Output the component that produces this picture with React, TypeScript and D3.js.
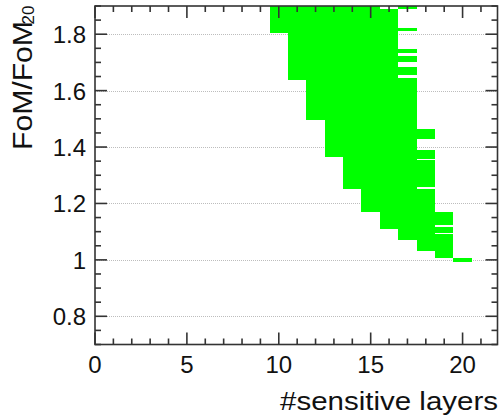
import React from "react";
import * as d3 from "d3";

// number of sensitive layers (bin centre) for each filled cell
const layers = [10, 11, 12, 13, 14, 15, 16, 17, 17, 17, 17, 17, 17, 18, 18, 18, 18, 19, 19, 19, 20];
// lower and upper FoM/FoM20 edge of each filled cell
const fomLow = [1.805, 1.638, 1.496, 1.364, 1.25, 1.171, 1.111, 1.891, 1.811, 1.735, 1.7, 1.657, 1.07, 1.427, 1.359, 1.259, 1.031, 1.122, 1.096, 1.007, 0.993];
const fomHigh = [2.0, 2.0, 2.0, 2.0, 2.0, 2.0, 1.891, 2.0, 1.822, 1.749, 1.723, 1.685, 1.645, 1.465, 1.389, 1.354, 1.253, 1.17, 1.116, 1.09, 1.007];

const xTickValues = [0, 5, 10, 15, 20];
const xTickLabels = ["0", "5", "10", "15", "20"];
const yTickValues = [0.8, 1.0, 1.2, 1.4, 1.6, 1.8];
const yTickLabels = ["0.8", "1", "1.2", "1.4", "1.6", "1.8"];

const W = 499;
const H = 416;
const L = 95;
const R = 497.5;
const T = 6;
const B = 344.5;

const FONT = "'Liberation Sans', Arial, Helvetica, sans-serif";
const AXIS = "#333";

export default function App() {
  const x = d3.scaleLinear().domain([0, 21.9]).range([L, R]);
  const y = d3.scaleLinear().domain([0.7, 1.9]).range([B, T]);

  const xMinor = d3.range(0, 22, 1).filter((v) => v % 5 !== 0);
  const yMinorTicks = d3
    .range(0, 25)
    .map((i) => +(0.7 + i * 0.05).toFixed(2))
    .filter((v) => v <= 1.9 + 1e-9 && !yTickValues.some((m) => Math.abs(m - v) < 1e-6));

  const cells = layers.map((l, i) => {
    const x0 = Math.round(x(l - 0.5));
    const x1 = Math.round(x(l + 0.5));
    const y0 = Math.round(y(fomHigh[i]));
    const y1 = Math.round(y(fomLow[i]));
    return { x0, x1, y0, y1 };
  });

  const major = 12;
  const minor = 6;

  return (
    <svg width={W} height={H} style={{ position: "absolute", left: 0, top: 0, background: "#fff" }}>
      <defs>
        <clipPath id="plot">
          <rect x={L} y={T} width={R - L} height={B - T} />
        </clipPath>
      </defs>
      <rect x={0} y={0} width={W} height={H} fill="#fff" />

      {/* grid */}
      {yTickValues.map((v) => (
        <line key={"g" + v} x1={L} x2={R} y1={Math.round(y(v)) + 0.5} y2={Math.round(y(v)) + 0.5} stroke="#bdbdbd" strokeWidth={1} strokeDasharray="1,1" />
      ))}

      {/* cells */}
      <g clipPath="url(#plot)" shapeRendering="crispEdges">
        {cells.map((c, i) => (
          <rect key={i} x={c.x0} width={c.x1 - c.x0} y={c.y0} height={c.y1 - c.y0} fill="#00ff00" />
        ))}
      </g>

      {/* frame */}
      <rect x={L} y={T} width={R - L} height={B - T} fill="none" stroke={AXIS} strokeWidth={1.6} />

      {/* x ticks */}
      {xTickValues.map((v) => (
        <g key={"xm" + v}>
          <line x1={x(v)} x2={x(v)} y1={B} y2={B - major} stroke={AXIS} strokeWidth={1.6} />
          <line x1={x(v)} x2={x(v)} y1={T} y2={T + major} stroke={AXIS} strokeWidth={1.6} />
        </g>
      ))}
      {xMinor.map((v) => (
        <g key={"xn" + v}>
          <line x1={x(v)} x2={x(v)} y1={B} y2={B - minor} stroke={AXIS} strokeWidth={1.6} />
          <line x1={x(v)} x2={x(v)} y1={T} y2={T + minor} stroke={AXIS} strokeWidth={1.6} />
        </g>
      ))}
      {/* y ticks */}
      {yTickValues.map((v) => (
        <g key={"ym" + v}>
          <line x1={L} x2={L + major} y1={y(v)} y2={y(v)} stroke={AXIS} strokeWidth={1.6} />
          <line x1={R} x2={R - major} y1={y(v)} y2={y(v)} stroke={AXIS} strokeWidth={1.6} />
        </g>
      ))}
      {yMinorTicks.map((v) => (
        <g key={"yn" + v}>
          <line x1={L} x2={L + minor} y1={y(v)} y2={y(v)} stroke={AXIS} strokeWidth={1.6} />
          <line x1={R} x2={R - minor} y1={y(v)} y2={y(v)} stroke={AXIS} strokeWidth={1.6} />
        </g>
      ))}

      {/* tick labels */}
      {xTickValues.map((v, i) => (
        <text key={"xl" + v} x={x(v)} y={373} textAnchor="middle" fontFamily={FONT} fontSize={24} fill="#111">
          {xTickLabels[i]}
        </text>
      ))}
      {yTickValues.map((v, i) => (
        <text key={"yl" + v} x={86} y={y(v) + 9} textAnchor="end" fontFamily={FONT} fontSize={24} fill="#111">
          {yTickLabels[i]}
        </text>
      ))}

      {/* axis titles */}
      <text x={498} y={409.5} textAnchor="end" fontFamily={FONT} fontSize={26} fill="#111" textLength={218} lengthAdjust="spacingAndGlyphs">
        #sensitive layers
      </text>
      <g transform="translate(31.5,0) rotate(-90)">
        <text x={-21} y={0} textAnchor="end" fontFamily={FONT} fontSize={27} fill="#111" textLength={129} lengthAdjust="spacingAndGlyphs">
          FoM/FoM
        </text>
        <text x={-5.5} y={2.5} textAnchor="end" fontFamily={FONT} fontSize={17} fill="#111">
          20
        </text>
      </g>
    </svg>
  );
}
